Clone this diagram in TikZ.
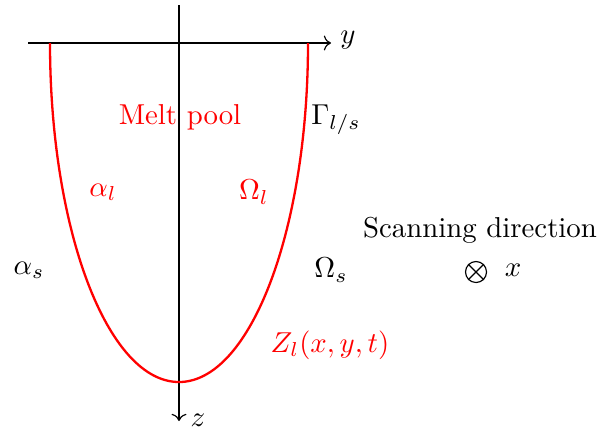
\documentclass[tikz,border=0pt]{standalone}
\usetikzlibrary{arrows.meta}
\begin{document}
\begin{tikzpicture}[x=0.3472pt,y=-0.3472pt,
  axis/.style={line width=0.4pt,->},
  pool/.style={red,line width=0.8pt},
  redlbl/.style={text=red,inner sep=0pt},
  blklbl/.style={text=black,inner sep=0pt},
  otimesmark/.style={circle,draw,line width=0.4pt,minimum size=21*0.3472pt,inner sep=0pt,
    append after command={[line width=0.4pt]
      (\tikzlastnode.45) edge (\tikzlastnode.225)
      (\tikzlastnode.135) edge (\tikzlastnode.315)}}]
\useasboundingbox (0,0) rectangle (599,430);
% axes
\coordinate (hs) at (28,43);
\coordinate (he) at (331,43);
\coordinate (vs) at (179,5);
\coordinate (ve) at (179,421);
\draw[axis] (hs) -- (he);
\draw[axis] (vs) -- (ve);
\node[blklbl] (ylbl) at (348,40) {$y$};
\node[blklbl] (zlbl) at (198,420) {$z$};
% melt pool boundary (half ellipse)
\coordinate (pl) at (50,43);
\draw[pool] (pl) arc[start angle=180,end angle=0,x radius=129,y radius=339];
% labels
\node[redlbl] (mp) at (180,117) {Melt pool};
\node[blklbl] (gam) at (336,120) {$\Gamma_{l/s}$};
\node[redlbl] (al) at (103,192) {$\alpha_l$};
\node[redlbl] (ol) at (254,192) {$\Omega_l$};
\node[blklbl] (as) at (29,270) {$\alpha_s$};
\node[blklbl] (os) at (331,270) {$\Omega_s$};
\node[blklbl] (scan) at (480,230) {Scanning direction};
\node[otimesmark] (otim) at (476,272) {};
\node[blklbl] (xlbl) at (513,270) {$x$};
\node[redlbl] (zl) at (330,345) {$Z_l(x,y,t)$};
\end{tikzpicture}
\end{document}
